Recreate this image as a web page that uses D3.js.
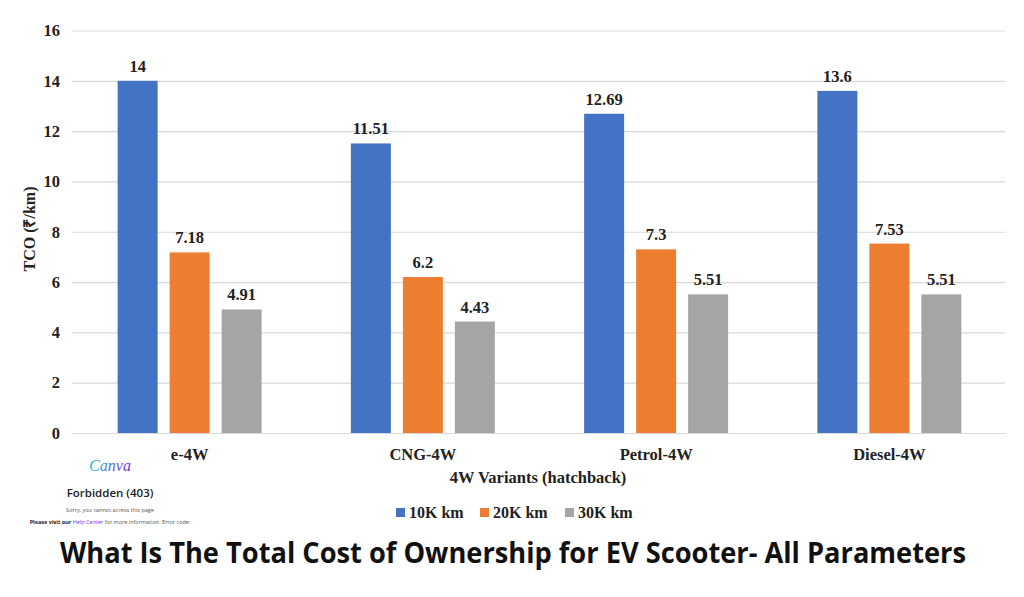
<!DOCTYPE html>
<html><head><meta charset="utf-8">
<script src="https://cdn.jsdelivr.net/npm/d3@7"></script>
<style>body{margin:0;background:#fff;}svg{display:block;}</style>
</head><body>
<svg id="c" width="1024" height="597"></svg>
<script>
const categories = ["e-4W", "CNG-4W", "Petrol-4W", "Diesel-4W"];
const seriesNames = ["10K km", "20K km", "30K km"];
const values10K = [14, 11.51, 12.69, 13.6];
const values20K = [7.18, 6.2, 7.3, 7.53];
const values30K = [4.91, 4.43, 5.51, 5.51];
const yTicks = [0, 2, 4, 6, 8, 10, 12, 14, 16];
const colors = ["#4472C4", "#ED7D31", "#A5A5A5"];
const seriesValues = [values10K, values20K, values30K];

const svg = d3.select("#c");
svg.append("rect").attr("width",1024).attr("height",597).attr("fill","#fff");
const serif = "'Liberation Serif','Times New Roman',serif";
const FS = 16.5;

const x0 = d3.scaleBand().domain(categories).range([72, 1005]).padding(0);
const x1 = d3.scaleBand().domain(seriesNames).range([-72, 72]).paddingInner(12/52).paddingOuter(0);
const y = d3.scaleLinear().domain([0, 16]).range([433, 30.5]);

// gridlines
const yAxis = d3.axisLeft(y).tickValues(yTicks).tickSize(-(1005-72)).tickFormat(d3.format("d")).tickPadding(12);
const gy = svg.append("g").attr("transform","translate(72,0)").call(yAxis);
gy.select(".domain").remove();
gy.selectAll(".tick line").attr("stroke","#d9d9d9").attr("stroke-width",1.2);
gy.selectAll(".tick text").attr("font-family",serif).attr("font-weight","bold").attr("font-size",FS).attr("fill","#222");

// bars
categories.forEach((c, i) => {
  const cx = x0(c) + x0.bandwidth()/2 + 1;
  seriesNames.forEach((s, j) => {
    const v = seriesValues[j][i];
    const bx = cx + x1(s);
    svg.append("rect").attr("x", bx).attr("y", y(v)).attr("width", x1.bandwidth())
      .attr("height", y(0) - y(v)).attr("fill", colors[j]);
    svg.append("text").attr("x", bx + x1.bandwidth()/2).attr("y", y(v) - 9)
      .attr("text-anchor","middle").attr("font-family",serif).attr("font-weight","bold")
      .attr("font-size",FS).attr("fill","#222").text(String(v));
  });
});

// x axis
const xAxis = d3.axisBottom(x0).tickSize(0).tickPadding(15);
const gx = svg.append("g").attr("transform","translate(0,433)").call(xAxis);
gx.select(".domain").attr("stroke","#d9d9d9").attr("stroke-width",1.2);
gx.selectAll(".tick").attr("transform", d => `translate(${x0(d)+x0.bandwidth()/2+1},0)`);
gx.selectAll(".tick text").attr("font-family",serif).attr("font-weight","bold").attr("font-size",FS).attr("fill","#222");

// axis titles
svg.append("text").attr("x",538).attr("y",483).attr("text-anchor","middle")
  .attr("font-family",serif).attr("font-weight","bold").attr("font-size",FS).attr("fill","#222")
  .text("4W Variants (hatchback)");
svg.append("text").attr("transform","translate(35,229) rotate(-90)").attr("text-anchor","middle")
  .attr("font-family",serif).attr("font-weight","bold").attr("font-size",16).attr("fill","#222")
  .text("TCO (₹/km)");

// legend
const legX = [396, 480, 565];
seriesNames.forEach((s, j) => {
  svg.append("rect").attr("x", legX[j]).attr("y", 508).attr("width", 9).attr("height", 9).attr("fill", colors[j]);
  svg.append("text").attr("x", legX[j] + 13).attr("y", 518).attr("font-family",serif)
    .attr("font-weight","bold").attr("font-size",16).attr("fill","#222").text(s);
});

// Canva watermark block
const grad = svg.append("defs").append("linearGradient").attr("id","cg");
grad.append("stop").attr("offset","0%").attr("stop-color","#20c4cb");
grad.append("stop").attr("offset","100%").attr("stop-color","#7d2ae8");
svg.append("text").attr("x",110).attr("y",471).attr("text-anchor","middle")
  .attr("font-family","'Liberation Serif',serif").attr("font-style","italic").attr("font-size",16)
  .attr("fill","url(#cg)").text("Canva");
svg.append("text").attr("x",110).attr("y",497).attr("text-anchor","middle")
  .attr("font-family","'Open Sans',sans-serif").attr("font-weight","600").attr("font-size",11.5)
  .attr("fill","#222").text("Forbidden (403)");
svg.append("text").attr("x",110).attr("y",512).attr("text-anchor","middle")
  .attr("font-family","'Open Sans',sans-serif").attr("font-size",5.5)
  .attr("fill","#555").text("Sorry, you cannot access this page");
const pt = svg.append("text").attr("x",110).attr("y",524).attr("text-anchor","middle")
  .attr("font-family","'Open Sans',sans-serif").attr("font-size",5.5).attr("fill","#555");
pt.append("tspan").attr("font-weight","bold").attr("fill","#222").text("Please visit our ");
pt.append("tspan").attr("fill","#7d2ae8").text("Help Center");
pt.append("tspan").text(" for more information. Error code:");

// title
svg.append("text").attr("x",60).attr("y",563)
  .attr("font-family","'Open Sans',sans-serif").attr("font-weight","bold").attr("font-size",28)
  .attr("fill","#111").attr("textLength",906).attr("lengthAdjust","spacingAndGlyphs")
  .text("What Is The Total Cost of Ownership for EV Scooter- All Parameters");
</script>
</body></html>
